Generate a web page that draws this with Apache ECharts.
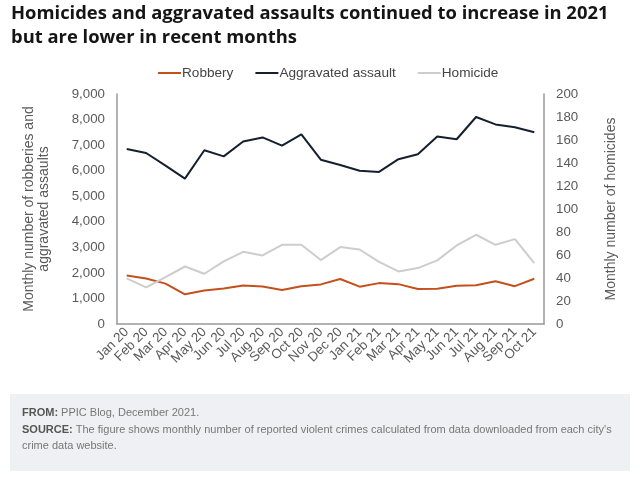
<!DOCTYPE html>
<html><head><meta charset="utf-8">
<script src="https://cdn.jsdelivr.net/npm/echarts@6/dist/echarts.min.js"></script>
<style>html,body{margin:0;padding:0;background:#fff}#c{width:640px;height:477px}</style>
</head><body><div id="c"></div>
<script>
const months = ['Jan 20','Feb 20','Mar 20','Apr 20','May 20','Jun 20','Jul 20','Aug 20','Sep 20','Oct 20','Nov 20','Dec 20','Jan 21','Feb 21','Mar 21','Apr 21','May 21','Jun 21','Jul 21','Aug 21','Sep 21','Oct 21'];
const robbery = [1900,1780,1580,1160,1310,1390,1510,1470,1330,1480,1550,1760,1460,1600,1560,1370,1380,1500,1520,1670,1480,1770];
const aggravatedAssault = [6850,6690,6200,5690,6800,6560,7140,7300,6980,7420,6430,6220,6000,5950,6450,6640,7340,7230,8100,7810,7700,7500];
const homicide = [39.7,31.8,40.8,50,43.7,54.4,62.8,59.6,68.9,68.9,55.6,66.9,64.8,54.1,45.7,48.6,55.3,68.3,77.6,68.9,73.8,53.0];
const leftTicks = [0,9000,1000];
const rightTicks = [0,200,20];

const chart = echarts.init(document.getElementById('c'));
const font = 'Liberation Sans, Arial, sans-serif';
const axisGray = '#5a5a5a';
chart.setOption({
  animation:false,
  title:{
    text:'Homicides and aggravated assaults continued to increase in 2021\nbut are lower in recent months',
    left:11, top:2, padding:0,
    textStyle:{fontFamily:'Open Sans, sans-serif', fontWeight:'bold', fontSize:18.4, lineHeight:24, color:'#151515'}
  },
  legend:{
    top:66, left:158, padding:0, itemWidth:23, itemHeight:2, itemGap:22,
    icon:'rect',
    textStyle:{fontFamily:font, fontSize:13.6, color:'#444', padding:[0,0,0,-4]},
    data:['Robbery','Aggravated assault','Homicide']
  },
  grid:{left:117, right:96, top:94, bottom:153, containLabel:false},
  xAxis:{
    type:'category', data:months, boundaryGap:true,
    axisLine:{lineStyle:{color:'#999', width:1.5}},
    axisTick:{show:false},
    axisLabel:{rotate:45, interval:0, fontFamily:font, fontSize:13.3, color:axisGray, margin:6}
  },
  yAxis:[
    {type:'value', min:leftTicks[0], max:leftTicks[1], interval:leftTicks[2],
     name:'Monthly number of robberies and\naggravated assaults', nameLocation:'middle', nameGap:65,
     nameTextStyle:{fontFamily:font, fontSize:14, color:axisGray, lineHeight:15},
     axisLine:{show:true, lineStyle:{color:'#999', width:1.5}}, axisTick:{show:false}, splitLine:{show:false},
     axisLabel:{fontFamily:font, fontSize:13.3, color:axisGray, margin:12,
       formatter:v=>v.toLocaleString('en-US')}},
    {type:'value', min:rightTicks[0], max:rightTicks[1], interval:rightTicks[2],
     name:'Monthly number of homicides', nameLocation:'middle', nameGap:60,
     nameTextStyle:{fontFamily:font, fontSize:14, color:axisGray},
     axisLine:{show:true, lineStyle:{color:'#999', width:1.5}}, axisTick:{show:false}, splitLine:{show:false},
     axisLabel:{fontFamily:font, fontSize:13.3, color:axisGray, margin:12}}
  ],
  series:[
    {name:'Robbery', type:'line', data:robbery, yAxisIndex:0, symbol:'none',
     lineStyle:{color:'#c4501c', width:2}, itemStyle:{color:'#c4501c'}},
    {name:'Aggravated assault', type:'line', data:aggravatedAssault, yAxisIndex:0, symbol:'none',
     lineStyle:{color:'#14202e', width:2}, itemStyle:{color:'#14202e'}},
    {name:'Homicide', type:'line', data:homicide, yAxisIndex:1, symbol:'none',
     lineStyle:{color:'#cdcdcd', width:2}, itemStyle:{color:'#cdcdcd'}}
  ],
  graphic:[
    {type:'rect', shape:{x:10, y:394, width:620, height:77}, style:{fill:'#eef0f3'}, z:-1},
    {type:'text', left:22, top:405, style:{
      text:'{b|FROM:} PPIC Blog, December 2021.\n{b|SOURCE:} The figure shows monthly number of reported violent crimes calculated from data downloaded from each city\'s\ncrime data website.',
      rich:{b:{fontWeight:'bold', fontFamily:font, fontSize:11, fill:'#555', lineHeight:16.5}},
      fontFamily:font, fontSize:11, fill:'#777', lineHeight:16.5}}
  ]
});
</script></body></html>
